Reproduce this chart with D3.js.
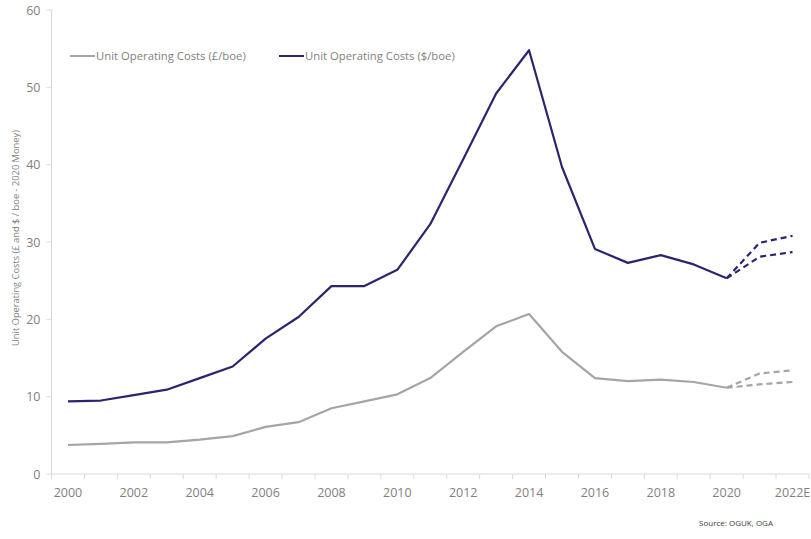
<!DOCTYPE html>
<html><head><meta charset="utf-8">
<script src="https://cdn.jsdelivr.net/npm/d3@7"></script>
<style>body{margin:0;background:#fff;} svg{display:block;font-family:"Open Sans",sans-serif;}</style>
</head><body><svg id="c" width="811" height="539"></svg>
<script>
const years = ["2000","2001","2002","2003","2004","2005","2006","2007","2008","2009","2010","2011","2012","2013","2014","2015","2016","2017","2018","2019","2020","2021","2022E"];
const tickLabels = ["2000","2002","2004","2006","2008","2010","2012","2014","2016","2018","2020","2022E"];
const yTicks = [0,10,20,30,40,50,60];
const usdActual = [9.4,9.5,10.2,10.9,12.4,13.9,17.5,20.3,24.3,24.3,26.4,32.3,40.7,49.2,54.8,39.7,29.1,27.3,28.3,27.1,25.3];
const gbpActual = [3.75,3.9,4.1,4.1,4.45,4.9,6.1,6.7,8.5,9.4,10.3,12.4,15.8,19.1,20.7,15.8,12.4,12.0,12.2,11.9,11.15];
const usdProjHigh = [25.3,29.9,30.8];
const usdProjLow = [25.3,28.1,28.7];
const gbpProjHigh = [11.15,13.0,13.4];
const gbpProjLow = [11.15,11.6,11.9];
const projYears = ["2020","2021","2022E"];
const seriesNames = ["Unit Operating Costs (£/boe)","Unit Operating Costs ($/boe)"];
const colors = {gbp:"#a5a5a5", usd:"#2b2570"};

const svg = d3.select("#c");
const m = {left:51.5, right:809, top:10, bottom:474};
const x = d3.scaleBand().domain(years).range([m.left, m.right]).padding(0);
const y = d3.scaleLinear().domain([0,60]).range([m.bottom, m.top]);
const cx = d => x(d) + x.bandwidth()/2;

const axisColor = "#d9d9d9", textColor = "#7f7f7f";
svg.append("line").attr("x1",m.left).attr("x2",m.left).attr("y1",m.top).attr("y2",m.bottom).attr("stroke",axisColor);
svg.append("line").attr("x1",m.left).attr("x2",m.right).attr("y1",m.bottom).attr("y2",m.bottom).attr("stroke",axisColor);
svg.selectAll(".yt").data(yTicks).enter().append("line")
  .attr("x1",m.left-5).attr("x2",m.left).attr("y1",d=>y(d)).attr("y2",d=>y(d)).attr("stroke",axisColor);
svg.selectAll(".yl").data(yTicks).enter().append("text")
  .attr("x",m.left-11).attr("y",d=>y(d)+4.5).attr("text-anchor","end")
  .attr("font-size",12.5).attr("fill",textColor).text(d=>d);
const bounds = years.map(d=>x(d)).concat([m.right]);
svg.selectAll(".xt").data(bounds).enter().append("line")
  .attr("x1",d=>d).attr("x2",d=>d).attr("y1",m.bottom).attr("y2",m.bottom+5).attr("stroke",axisColor);
svg.selectAll(".xl").data(tickLabels).enter().append("text")
  .attr("x",d=>cx(d)).attr("y",m.bottom+23).attr("text-anchor","middle")
  .attr("font-size",12.5).attr("fill",textColor).text(d=>d);

svg.append("text").attr("transform","translate(19,238) rotate(-90)")
  .attr("text-anchor","middle").attr("font-size",9.3).attr("fill",textColor)
  .text("Unit Operating Costs (£ and $ / boe - 2020 Money)");

const line = d3.line().x(d=>cx(d[0])).y(d=>y(d[1]));
const zipA = v => years.slice(0,v.length).map((yr,i)=>[yr,v[i]]);
const zipP = v => projYears.map((yr,i)=>[yr,v[i]]);
function draw(data,color,dash){
  svg.append("path").attr("d",line(data)).attr("fill","none").attr("stroke",color)
    .attr("stroke-width",2.2).attr("stroke-linejoin","round").attr("stroke-dasharray",dash||null);
}
draw(zipA(gbpActual),colors.gbp);
draw(zipP(gbpProjHigh),colors.gbp,"6,4");
draw(zipP(gbpProjLow),colors.gbp,"6,4");
draw(zipA(usdActual),colors.usd);
draw(zipP(usdProjHigh),colors.usd,"6,4");
draw(zipP(usdProjLow),colors.usd,"6,4");

const leg = [{x:70,c:colors.gbp,t:seriesNames[0]},{x:279,c:colors.usd,t:seriesNames[1]}];
leg.forEach(l=>{
  svg.append("line").attr("x1",l.x).attr("x2",l.x+25).attr("y1",56).attr("y2",56).attr("stroke",l.c).attr("stroke-width",2);
  svg.append("text").attr("x",l.x+26).attr("y",60).attr("font-size",11.3).attr("fill",textColor).text(l.t);
});

svg.append("text").attr("x",773).attr("y",526).attr("text-anchor","end").attr("font-size",8).attr("fill","#404040").text("Source: OGUK, OGA");
</script></body></html>
